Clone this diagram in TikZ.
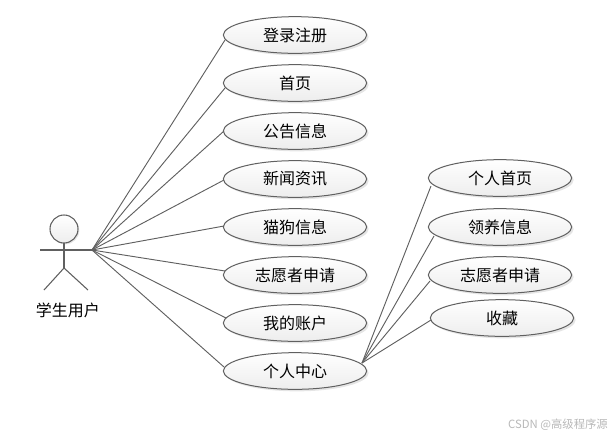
\documentclass[tikz,border=0pt]{standalone}
\usepackage{fontspec}
\setmainfont{Noto Sans CJK SC}
\usetikzlibrary{shapes.geometric,shadows}
\definecolor{edge}{HTML}{606060}
\definecolor{shade1}{HTML}{EDEDED}
\tikzset{
  usecase/.style={ellipse,draw=edge,line width=.75pt,minimum width=107.5pt,minimum height=27.5pt,inner sep=0pt,
    top color=white,bottom color=shade1,font=\fontsize{12}{14}\selectfont,text=black,
    drop shadow={shadow xshift=1.5pt,shadow yshift=-1.5pt,opacity=.1,fill=black}},
  conn/.style={draw=edge,line width=.7pt},
  stick/.style={draw=edge,line width=.8pt},
  actorlabel/.style={font=\fontsize{12}{14}\selectfont,text=black,inner sep=0pt},
  head/.style={circle,draw=edge,line width=.8pt,minimum size=21pt,inner sep=0pt,top color=white,bottom color=shade1,
    drop shadow={shadow xshift=1pt,shadow yshift=-1pt,opacity=.1,fill=black}},
  wmark/.style={font=\fontsize{8.5}{10}\selectfont,text=black!28,inner sep=0pt}
}
\begin{document}
\begin{tikzpicture}[x=.75pt,y=-.75pt]
\useasboundingbox (0,0) rectangle (615,437);
\coordinate (hub) at (92,250);
\coordinate (armL) at (40,250);
\coordinate (neck) at (64,243);
\coordinate (crotch) at (64,268);
\coordinate (legL) at (44,290);
\coordinate (legR) at (88,290);
\node[head] (hd) at (64,229) {};
\node[actorlabel] (student) at (68,310) {学生用户};
\node[usecase] (a1) at (295,35) {登录注册};
\node[usecase] (a2) at (295,83) {首页};
\node[usecase] (a3) at (295,131) {公告信息};
\node[usecase] (a4) at (295,179) {新闻资讯};
\node[usecase] (a5) at (295,227) {猫狗信息};
\node[usecase] (a6) at (295,275) {志愿者申请};
\node[usecase] (a7) at (295,323) {我的账户};
\node[usecase] (a8) at (295,371) {个人中心};
\node[usecase] (b1) at (500,178) {个人首页};
\node[usecase] (b2) at (500,227) {领养信息};
\node[usecase] (b3) at (500,275) {志愿者申请};
\node[usecase] (b4) at (502,318) {收藏};
\node[wmark] (wm) at (558,425) {CSDN @高级程序源};
\draw[stick] (armL) -- (hub);
\draw[stick] (neck) -- (crotch);
\draw[stick] (crotch) -- (legL);
\draw[stick] (crotch) -- (legR);
\foreach \n/\dx/\dy in {a1/-70/5,a2/-70/5,a3/-71/0,a4/-71/1,a5/-71/-1,a6/-70/-4,a7/-69/-5,a8/-71/-4}
  \draw[conn] (hub) -- ([shift={(\dx,\dy)}]\n.center);
\coordinate (hub2) at (362,363);
\foreach \n/\dx/\dy in {b1/-69/8,b2/-66/9,b3/-70/6,b4/-71/2}
  \draw[conn] (hub2) -- ([shift={(\dx,\dy)}]\n.center);
\end{tikzpicture}
\end{document}
